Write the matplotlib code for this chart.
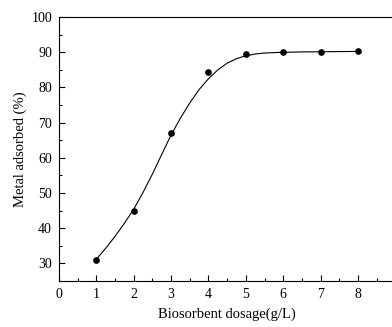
import numpy as np
import matplotlib.pyplot as plt
from matplotlib.ticker import MultipleLocator

# measured points
dosage = [1, 2, 3, 4, 5, 6, 7, 8]
adsorbed = [31.0, 44.9, 67.0, 84.4, 89.5, 90.0, 90.1, 90.3]

# fitted curve
curve_x = [1.0, 1.25, 1.5, 1.75, 2.0, 2.25, 2.5, 2.75, 3.0, 3.25, 3.5, 3.75,
           4.0, 4.25, 4.5, 4.75, 5.0, 5.25, 5.5, 6.0, 6.5, 7.0, 7.5, 8.0]
curve_y = [31.2, 34.3, 37.7, 41.4, 45.4, 50.2, 55.4, 61.0, 66.5, 71.3, 75.6, 79.4,
           82.5, 85.0, 86.9, 88.2, 89.0, 89.5, 89.8, 90.0, 90.1, 90.15, 90.2, 90.25]

plt.rcParams['font.family'] = ['Liberation Serif', 'DejaVu Serif']
plt.rcParams['font.size'] = 10

fig = plt.figure(figsize=(3.92, 3.27), dpi=100)
ax = fig.add_axes([0.1505, 0.1407, 0.858, 0.807])

ax.plot(curve_x, curve_y, 'k-', lw=0.8)
ax.plot(dosage, adsorbed, 'ko', ms=3.8)

ax.set_xlim(0, 9)
ax.set_ylim(25, 100)
ax.xaxis.set_major_locator(MultipleLocator(1))
ax.xaxis.set_minor_locator(MultipleLocator(0.5))
ax.yaxis.set_major_locator(MultipleLocator(10))
ax.yaxis.set_minor_locator(MultipleLocator(5))
ax.set_xticks([0, 1, 2, 3, 4, 5, 6, 7, 8])
ax.tick_params(which='both', direction='in', top=False, right=False, width=0.8)
ax.tick_params(which='major', length=4, pad=5)
ax.tick_params(which='minor', length=2.5)
for s in ax.spines.values():
    s.set_linewidth(0.8)

ax.set_xlabel('Biosorbent dosage(g/L)', fontsize=10.5, labelpad=5)
ax.set_ylabel('Metal adsorbed (%)', fontsize=10.5, labelpad=3)

plt.savefig('out.png', dpi=100)
